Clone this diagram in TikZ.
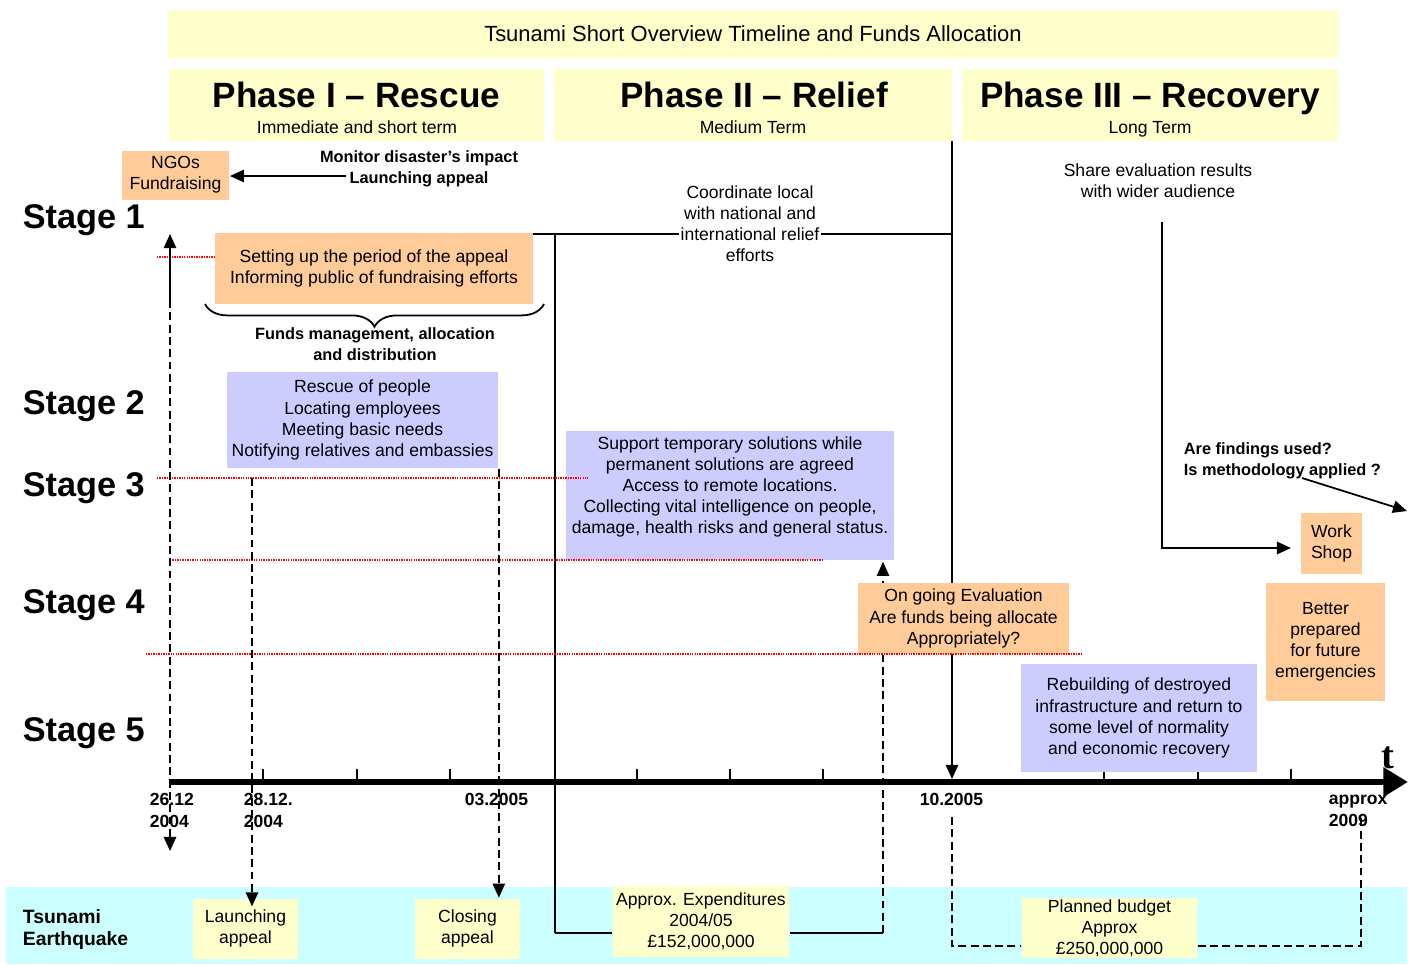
\documentclass[tikz,border=0pt]{standalone}
\usepackage{fontspec}
\setmainfont{Liberation Sans}
\newfontfamily\timesfont{Liberation Serif}
\usepackage{tikz}
\usetikzlibrary{arrows.meta,decorations.pathreplacing}

\definecolor{BoxYellow}{HTML}{FFFFCC}
\definecolor{BoxOrange}{HTML}{FFCC99}
\definecolor{BoxBlue}{HTML}{CCCCFF}
\definecolor{BandCyan}{HTML}{CCFFFF}

\begin{document}
\begin{tikzpicture}[x=0.02cm, y=-0.02cm,
		line width = 1pt,
		txt/.style={font=\fontsize{10}{12}\selectfont, align=center, inner sep=0pt},
		boldtxt/.style={font=\bfseries\fontsize{9.3}{12}\selectfont, align=center, inner sep=0pt},
		datelbl/.style={font=\bfseries\fontsize{10}{12.5}\selectfont, align=center, inner sep=0pt},
		panel/.style={txt},
		stage/.style={font=\bfseries\fontsize{19.5}{24}\selectfont, anchor=base west, inner sep=0pt},
		phase/.style={font=\bfseries\fontsize{20}{24}\selectfont, anchor=base, inner sep=0pt},
		arr/.style={-{Triangle[length=8pt,width=7pt]}},
		dashline/.style={dash pattern=on 4.5pt off 2.5pt},
		redline/.style={red, line width=0.9pt, dash pattern=on 0.8pt off 0.6pt}]

	\useasboundingbox (0,0) rectangle (1413,964);

	% cyan band at the bottom
	\fill[BandCyan] (6,887) rectangle (1407,964);

	% header
	\node[panel, fill=BoxYellow, minimum width=23.4cm, minimum height=0.96cm, font=\fontsize{12.5}{15}\selectfont] (title) at (753,34) {Tsunami Short Overview Timeline and Funds Allocation};
	\node[panel, fill=BoxYellow, minimum width=7.52cm, minimum height=1.44cm] (ph1) at (356.5,105) {};
	\node[panel, fill=BoxYellow, minimum width=7.96cm, minimum height=1.44cm] (ph2) at (753,105) {};
	\node[panel, fill=BoxYellow, minimum width=7.52cm, minimum height=1.44cm] (ph3) at (1150,105) {};
	\node[phase] (ph1name) at (356.5,107.5) {Phase I \textendash{} Rescue};
	\node[phase] (ph2name) at (754,107.5) {Phase II \textendash{} Relief};
	\node[phase] (ph3name) at (1150,107.5) {Phase III \textendash{} Recovery};
	\node[txt, anchor=base] (ph1sub) at (357,133) {Immediate and short term};
	\node[txt, anchor=base] (ph2sub) at (753,133) {Medium Term};
	\node[txt, anchor=base] (ph3sub) at (1150,133) {Long Term};

	% stages
	\foreach \n/\y in {1/228, 2/414, 3/496, 4/613, 5/741}
		\node[stage] (stage\n) at (22,\y) {Stage \n};

	% skeleton points
	\coordinate (tzero) at (169,782);
	\coordinate (tend) at (1408,782);
	\coordinate (split) at (170,300);
	\coordinate (uptip) at (170,234);
	\coordinate (downtip) at (170,851);
	\coordinate (monstart) at (346,176);
	\coordinate (coordl) at (520,234);
	\coordinate (coordr) at (952,234);
	\coordinate (phaseend) at (952,141);
	\coordinate (reliefend) at (555,933);
	\coordinate (evalfoot) at (883,933);
	\coordinate (oct) at (952,817);
	\coordinate (octfoot) at (952,946);
	\coordinate (endfoot) at (1361,946);
	\coordinate (approxtop) at (1361,818);
	\coordinate (sharefoot) at (1162,222);
	\coordinate (shareend) at (1291,548);
	\coordinate (findstart) at (1302,478);
	\coordinate (findend) at (1407,511);
	\coordinate (launchtop) at (252,478);

	% lines behind the boxes
	\draw (coordl) -- (coordr);
	\draw[arr, shorten >=1.7pt] (phaseend) -- (phaseend |- tzero);
	\draw (coordl -| reliefend) -- (reliefend);
	\draw[dashline, arr, shorten >=1pt] (evalfoot) -- (evalfoot |- 0,560);

	% time axis
	\draw[line width=3.4pt, -{Triangle[length=14pt,width=16pt]}] (tzero) -- (tend);
	\foreach \x in {263,357,450,637,730,823,1104,1198,1291}
		\draw (\x,769) -- (\x,780);
	\node[font=\timesfont\bfseries\fontsize{22}{22}\selectfont, inner sep=0pt] (tlabel) at (1388,758) {t};

	% boxes
	\node[panel, fill=BoxOrange, minimum width=2.14cm, minimum height=0.98cm] (ngo) at (175.5,175) {NGOs\\Fundraising};
	\node[panel, fill=BoxOrange, minimum width=6.36cm, minimum height=1.42cm] (setup) at (374,268.5) {Setting up the period of the appeal\\Informing public of fundraising efforts};
	\node[panel, fill=BoxBlue, minimum width=5.42cm, minimum height=1.92cm] (rescue) at (362.5,420) {Rescue of people\\Locating employees\\Meeting basic needs\\Notifying relatives and embassies};
	\node[panel, fill=BoxBlue, minimum width=6.58cm, minimum height=2.58cm] (support) at (730,495.5) {};
	\node[txt] (supporttxt) at (730,487) {Support temporary solutions while\\permanent solutions are agreed\\Access to remote locations.\\Collecting vital intelligence on people,\\damage, health risks and general status.};
	\node[panel, fill=BoxOrange, minimum width=4.22cm, minimum height=1.42cm] (evaluation) at (963.5,618.5) {On going Evaluation\\Are funds being allocate\\Appropriately?};
	\node[panel, fill=BoxBlue, minimum width=4.72cm, minimum height=2.16cm] (rebuild) at (1139,718) {Rebuilding of destroyed\\infrastructure and return to\\some level of normality\\and economic recovery};
	\node[panel, fill=BoxOrange, minimum width=2.38cm, minimum height=2.36cm] (prepared) at (1325.5,642) {Better\\prepared\\for future\\emergencies};
	\node[panel, fill=BoxOrange, minimum width=1.22cm, minimum height=1.22cm] (workshop) at (1331.5,543) {Work\\Shop};
	\node[panel, fill=BoxYellow, minimum width=2.1cm, minimum height=1.2cm] (launching) at (245.5,928.5) {Launching\\appeal};
	\node[panel, fill=BoxYellow, minimum width=2.1cm, minimum height=1.2cm] (closing) at (467.5,928.5) {Closing\\appeal};
	\node[panel, fill=BoxYellow, minimum width=3.52cm, minimum height=1.42cm] (expend) at (701,921.5) {Approx. Expenditures\\2004/05\\£152,000,000};
	\node[panel, fill=BoxYellow, minimum width=3.5cm, minimum height=1.2cm] (budget) at (1109.5,928) {Planned budget\\Approx\\£250,000,000};

	% free texts
	\node[boldtxt] (monitor) at (419,169) {Monitor disaster’s impact\\Launching appeal};
	\node[txt, fill=white, inner xsep=1pt] (coord) at (750,224) {Coordinate local\\with national and\\international relief\\efforts};
	\node[txt] (share) at (1158,181) {Share evaluation results\\with wider audience};
	\node[boldtxt] (funds) at (375,344.5) {Funds management, allocation\\and distribution};
	\node[boldtxt, align=left, anchor=west] (findings) at (1183,461) {Are findings used?\\Is methodology applied ?};
	\node[boldtxt, font=\bfseries\fontsize{11}{13}\selectfont, align=left, anchor=west] (tsunami) at (22,929.5) {Tsunami\\Earthquake};
	\node[datelbl, anchor=west, align=left] (d2612) at (149,810) {26.12\\2004};
	\node[datelbl, anchor=west, align=left] (d2812) at (243,810) {28.12.\\2004};
	\node[datelbl] (d0305) at (496.5,799) {03.2005};
	\node[datelbl] (d1005) at (951.5,799) {10.2005};
	\node[datelbl, anchor=west, align=left] (d2009) at (1328,811) {approx\\2009};

	% stage limits
	\draw[redline] (157,257) -- (setup.west |- 0,257);
	\draw[redline] (157,478) -- (588,478);
	\draw[redline] (170,560) -- (822,560);
	\draw[redline] (146,654) -- (1081,654);

	% connectors
	\draw[arr] (monstart) -- (monstart -| ngo.east);
	\draw[arr] (split) -- (uptip);
	\draw[dashline, arr] (split) -- (downtip);
	\draw[decorate, decoration={brace, mirror, amplitude=13pt}] (205,304) -- (544,304);
	\draw (reliefend) -- (reliefend -| expend.west);
	\draw (reliefend -| expend.east) -- (evalfoot);
	\draw[dashline, arr] (launchtop) -- ([yshift=-5pt]launchtop |- launching.north);
	\draw[dashline, arr] (rescue.south east) -- (rescue.south east |- closing.north);
	\draw[dashline] (oct) -- (octfoot) -- (octfoot -| budget.west);
	\draw[dashline] (endfoot -| budget.east) -- (endfoot) -- (approxtop);
	\draw[arr] (sharefoot) |- (shareend);
	\draw[arr] (findstart) -- (findend);

\end{tikzpicture}
\end{document}
